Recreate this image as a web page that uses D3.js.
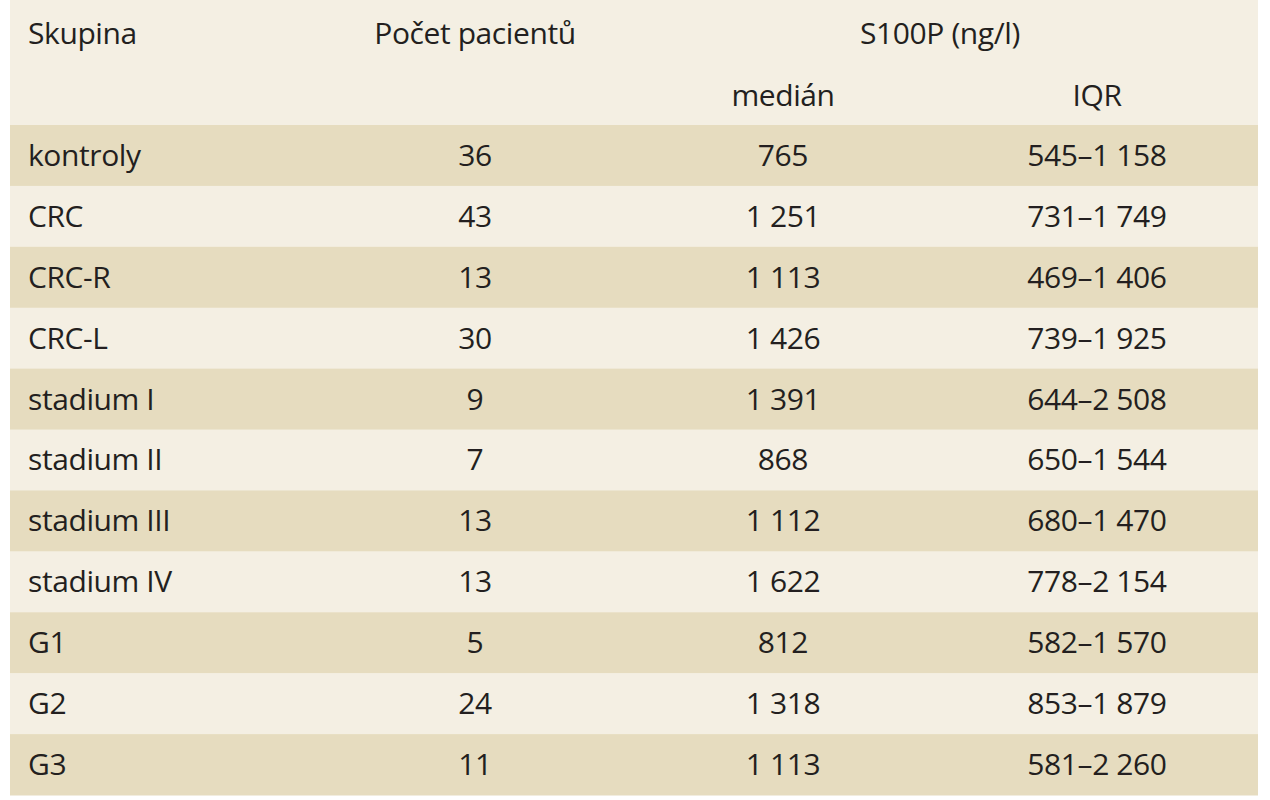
<!DOCTYPE html><html><head><meta charset="utf-8"><script src="https://cdn.jsdelivr.net/npm/d3@7"></script>
<style>body{margin:0;background:#fff}</style></head><body><svg id="c" width="1270" height="800"></svg>
<script>
const groups=["kontroly","CRC","CRC-R","CRC-L","stadium I","stadium II","stadium III","stadium IV","G1","G2","G3"];
const counts=["36","43","13","30","9","7","13","13","5","24","11"];
const medians=["765","1 251","1 113","1 426","1 391","868","1 112","1 622","812","1 318","1 113"];
const iqrs=["545–1 158","731–1 749","469–1 406","739–1 925","644–2 508","650–1 544","680–1 470","778–2 154","582–1 570","853–1 879","581–2 260"];
const svg=d3.select("#c");
const font="'Open Sans', sans-serif", fs=30, col="#231f20";
const x0=10,x1=1258;
svg.append("rect").attr("x",x0).attr("y",0).attr("width",x1-x0).attr("height",125).attr("fill","#f4efe3");
const y=d3.scaleBand().domain(groups).range([125,795]);
const rows=svg.selectAll("g.r").data(groups).join("g").attr("transform",d=>`translate(0,${y(d)})`);
rows.append("rect").attr("x",x0).attr("width",x1-x0).attr("height",y.bandwidth()+0.5)
 .attr("fill",(d,i)=>i%2===0?"#e6dcbf":"#f4efe3");
const cols=[{x:28,a:"start",v:groups},{x:475,a:"middle",v:counts},{x:783,a:"middle",v:medians},{x:1097,a:"middle",v:iqrs}];
cols.forEach(c=>{
 rows.append("text").attr("x",c.x).attr("y",y.bandwidth()/2).attr("dy","0.35em").attr("text-anchor",c.a)
 .attr("font-family",font).attr("font-size",fs).attr("letter-spacing",-0.4).attr("fill",col).text((d,i)=>c.v[i]);
});
const hdr=[["Skupina",28,33,"start"],["Počet pacientů",475,33,"middle"],["S100P (ng/l)",940,33,"middle"],["medián",783,95,"middle"],["IQR",1097,95,"middle"]];
svg.selectAll("text.h").data(hdr).join("text").attr("x",d=>d[1]).attr("y",d=>d[2]).attr("dy","0.35em")
 .attr("text-anchor",d=>d[3]).attr("font-family",font).attr("font-size",fs).attr("letter-spacing",-0.4).attr("fill",col).text(d=>d[0]);
</script></body></html>
